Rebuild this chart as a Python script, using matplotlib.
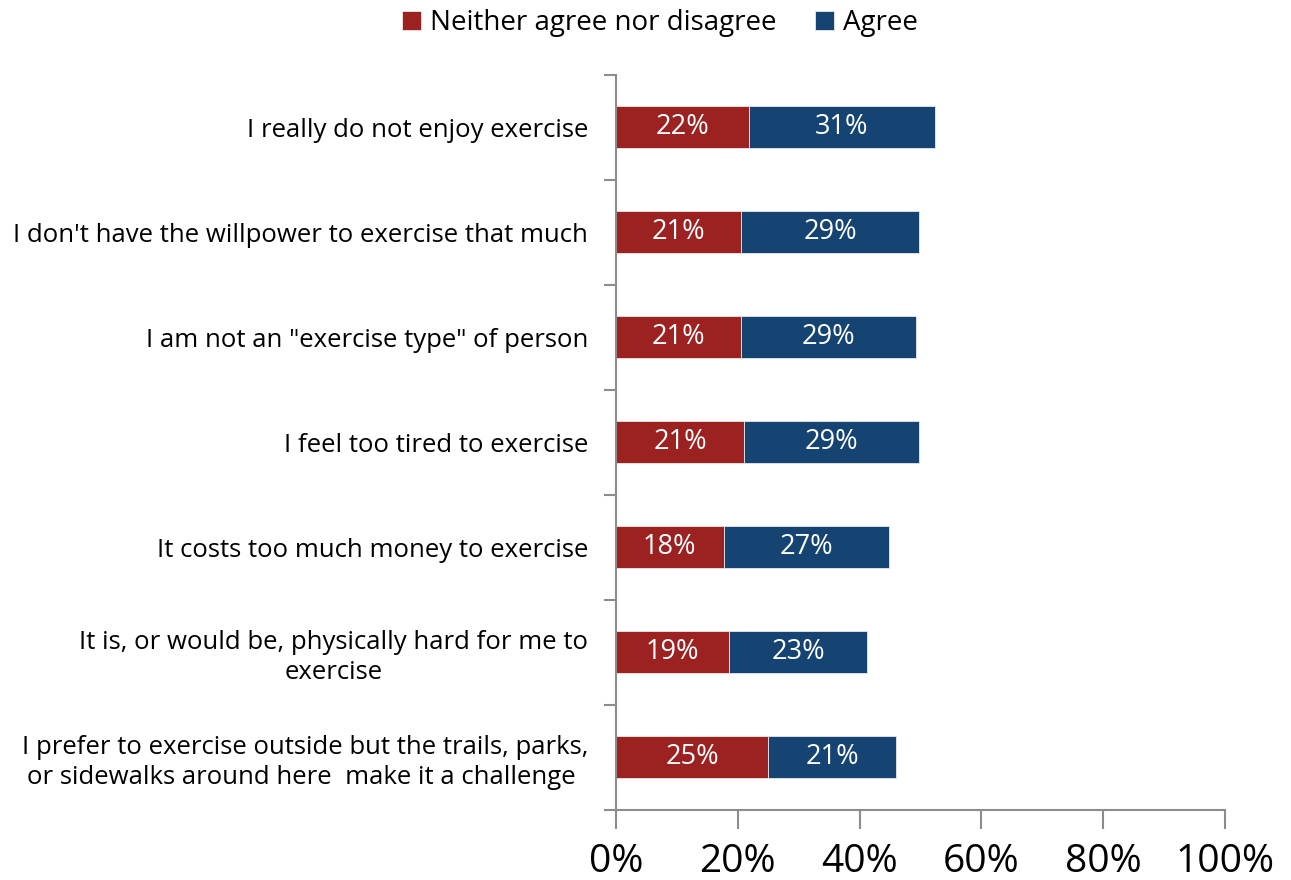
import matplotlib.pyplot as plt
import numpy as np

plt.rcParams['font.family'] = ['Open Sans', 'DejaVu Sans']

categories = [
    "I really do not enjoy exercise",
    "I don't have the willpower to exercise that much",
    "I am not an \"exercise type\" of person",
    "I feel too tired to exercise",
    "It costs too much money to exercise",
    "It is, or would be, physically hard for me to\nexercise",
    "I prefer to exercise outside but the trails, parks,\nor sidewalks around here  make it a challenge ",
]
neither = [21.8, 20.6, 20.6, 21.1, 17.7, 18.6, 25.0]
agree = [30.6, 29.1, 28.6, 28.6, 27.1, 22.6, 21.0]
xticks = [0, 20, 40, 60, 80, 100]

red = "#9c2222"
blue = "#164472"
spine_col = "#8c8c8c"

fig = plt.figure(figsize=(12.91, 8.8), dpi=100)
ax = fig.add_axes([0.477, 0.080, 0.472, 0.835])

y = np.arange(len(categories))[::-1]
h = 0.4
b1 = ax.barh(y, neither, height=h, color=red, edgecolor="#e8e8e8", linewidth=0.6,
             label="Neither agree nor disagree")
b2 = ax.barh(y, agree, left=neither, height=h, color=blue, edgecolor="#e8e8e8",
             linewidth=0.6, label="Agree")

for yi, n, a in zip(y, neither, agree):
    ax.text(n / 2, yi, f"{round(n)}%", ha="center", va="center", color="white", fontsize=19.5)
    ax.text(n + a / 2, yi, f"{round(a)}%", ha="center", va="center", color="white", fontsize=19.5)

ax.set_xlim(0, 100)
ax.set_ylim(-0.5, len(categories) - 0.5)
ax.set_xticks(xticks)
ax.set_xticklabels([f"{t}%" for t in xticks], fontsize=28)

# category labels sit between the boundary ticks
ax.set_yticks(y)
ax.set_yticklabels(categories, fontsize=18.5, ha="right", multialignment="center",
                   linespacing=1.25)
ax.tick_params(axis="y", length=0, pad=20)
ax.set_yticks(np.arange(-0.5, len(categories)), minor=True)
ax.tick_params(axis="y", which="minor", length=9, color=spine_col, width=1.5)
ax.tick_params(axis="x", length=14, color=spine_col, width=1.5, pad=10)

for s in ["top", "right"]:
    ax.spines[s].set_visible(False)
for s in ["left", "bottom"]:
    ax.spines[s].set_color(spine_col)
    ax.spines[s].set_linewidth(1.5)

fig.legend(handles=[b1, b2], loc="upper center", bbox_to_anchor=(0.511, 1.018), ncol=2,
           frameon=False, fontsize=20, handlelength=0.7, handleheight=0.7,
           handletextpad=0.3, columnspacing=1.4)

fig.savefig("out.png", dpi=100)
